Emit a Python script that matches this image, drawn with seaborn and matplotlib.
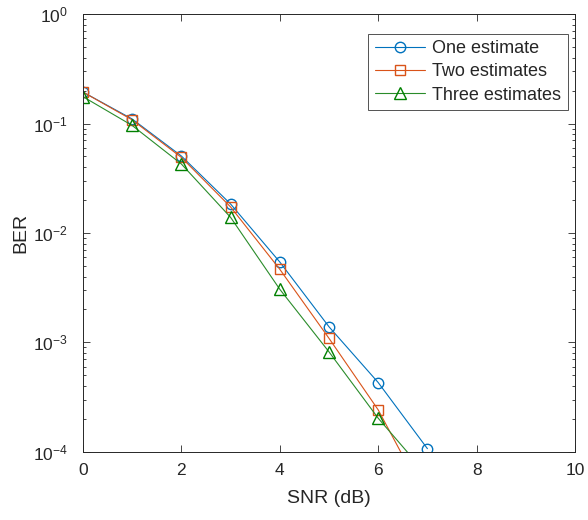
import matplotlib
matplotlib.use('Agg')
from matplotlib import pyplot as plt
from matplotlib.ticker import LogLocator, NullFormatter
import pandas as pd
import seaborn as sns

# SNR points (dB)
snr = [0, 1, 2, 3, 4, 5, 6, 7]

# BER values
ber_one = [0.194, 0.110, 0.0505, 0.0184, 0.00543, 0.00139, 4.3e-4, 1.07e-4]
ber_two = [0.194, 0.108, 0.049, 0.0173, 0.00466, 0.00109, 2.42e-4, 3.5e-5]
ber_three = [0.176, 0.096, 0.0427, 0.0139, 0.00306, 8.2e-4, 2.03e-4, 6.1e-5]

labels = ['One estimate', 'Two estimates', 'Three estimates']

sns.set_style('ticks')
plt.rcParams['font.family'] = ['Liberation Sans', 'DejaVu Sans']

fig = plt.figure(figsize=(5.88, 5.2), dpi=100)
ax = fig.add_axes([0.141, 0.131, 0.837, 0.842])

styles = [
    (ber_one, 'o', '#0072BD', '#0072BD', 7.5),
    (ber_two, 's', '#D95319', '#D95319', 7),
    (ber_three, '^', '#2a8c2a', '#008000', 8),
]
for (vals, mk, lc, mc, ms), lab in zip(styles, labels):
    df = pd.DataFrame({'snr': snr, 'ber': vals})
    sns.lineplot(data=df, x='snr', y='ber', ax=ax, label=lab, color=lc,
                 marker=mk, markersize=ms, markerfacecolor='none',
                 markeredgecolor=mc, markeredgewidth=1.0, linewidth=0.8)

ax.set_yscale('log')
ax.set_xlim(0, 10)
ax.set_ylim(1e-4, 1e0)
ax.set_xticks([0, 2, 4, 6, 8, 10])
ax.yaxis.set_minor_locator(LogLocator(base=10, subs=range(2, 10)))
ax.yaxis.set_minor_formatter(NullFormatter())
ax.tick_params(which='both', direction='in', top=True, right=True,
               labelsize=12.5, colors='#262626', width=0.6)
ax.tick_params(which='major', length=5)
ax.tick_params(which='minor', length=2.5)
ax.tick_params(axis='y', pad=11)
ax.tick_params(axis='x', pad=8)
for s in ax.spines.values():
    s.set_linewidth(0.7)
    s.set_color('#262626')

ax.set_xlabel('SNR (dB)', fontsize=14, color='#262626', labelpad=9)
ax.set_ylabel('BER', fontsize=14, color='#262626', labelpad=2)

leg = ax.legend(loc='upper right', bbox_to_anchor=(0.985, 0.955), fontsize=13,
                frameon=True, fancybox=False, edgecolor='#262626',
                handlelength=2.8, borderpad=0.35, labelspacing=0.35,
                handletextpad=0.4, borderaxespad=0.0)
leg.get_frame().set_linewidth(0.7)

fig.savefig('out.png', dpi=100)
